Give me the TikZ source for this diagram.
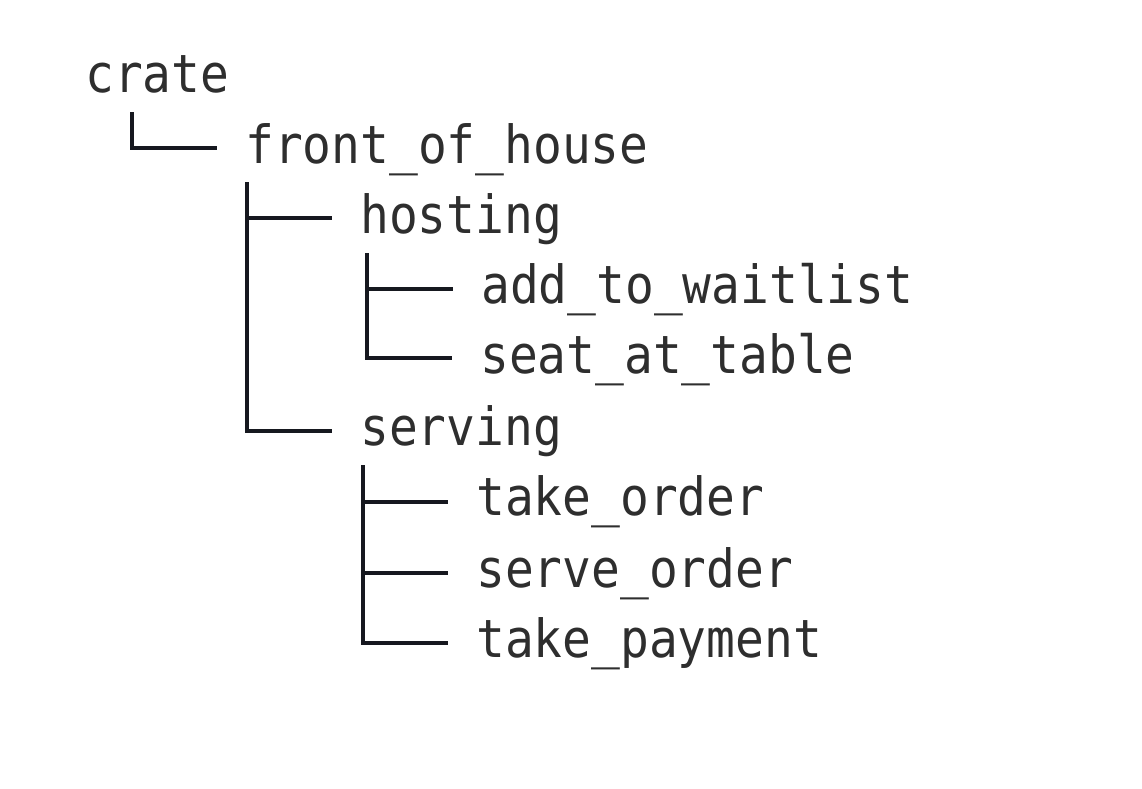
\documentclass[tikz,border=0pt]{standalone}
\usepackage{fontspec}
\newfontfamily\treefont[FakeStretch=0.91]{DejaVu Sans Mono}
\definecolor{txt}{HTML}{2E2E2E}
\definecolor{ln}{HTML}{16181F}
\tikzset{
  item/.style={anchor=base west, inner sep=0pt, text=txt, font=\treefont\fontsize{52.6}{60}\selectfont},
  branch/.style={draw=ln, line width=3.3pt, line join=miter}
}
\begin{document}
\begin{tikzpicture}[x=1pt,y=-1pt]
\useasboundingbox[fill=white] (0,0) rectangle (1142,788);
\node[item] (crate) at (85,92) {crate};
\node[item] (front) at (245,163) {front\_of\_house};
\node[item] (hosting) at (360,233) {hosting};
\node[item] (add) at (481,303) {add\_to\_waitlist};
\node[item] (seat) at (480,373) {seat\_at\_table};
\node[item] (serving) at (360,445) {serving};
\node[item] (take) at (476,515) {take\_order};
\node[item] (serve) at (476,587) {serve\_order};
\node[item] (pay) at (476,657) {take\_payment};
% connectors
\draw[branch] ([xshift=47pt,yshift=-20pt]crate.base west) |- ([xshift=-28pt,yshift=15pt]front.base west);
\draw[branch] ([xshift=2pt,yshift=-19pt]front.base west) |- ([xshift=-28pt,yshift=15pt]hosting.base west);
\draw[branch] ([xshift=2pt,yshift=-19pt]front.base west) |- ([xshift=-28pt,yshift=14pt]serving.base west);
\draw[branch] ([xshift=7pt,yshift=-20pt]hosting.base west) |- ([xshift=-28pt,yshift=14pt]add.base west);
\draw[branch] ([xshift=7pt,yshift=-20pt]hosting.base west) |- ([xshift=-28pt,yshift=15pt]seat.base west);
\draw[branch] ([xshift=3pt,yshift=-20pt]serving.base west) |- ([xshift=-28pt,yshift=13pt]take.base west);
\draw[branch] ([xshift=3pt,yshift=-20pt]serving.base west) |- ([xshift=-28pt,yshift=14pt]serve.base west);
\draw[branch] ([xshift=3pt,yshift=-20pt]serving.base west) |- ([xshift=-28pt,yshift=14pt]pay.base west);
\end{tikzpicture}
\end{document}
